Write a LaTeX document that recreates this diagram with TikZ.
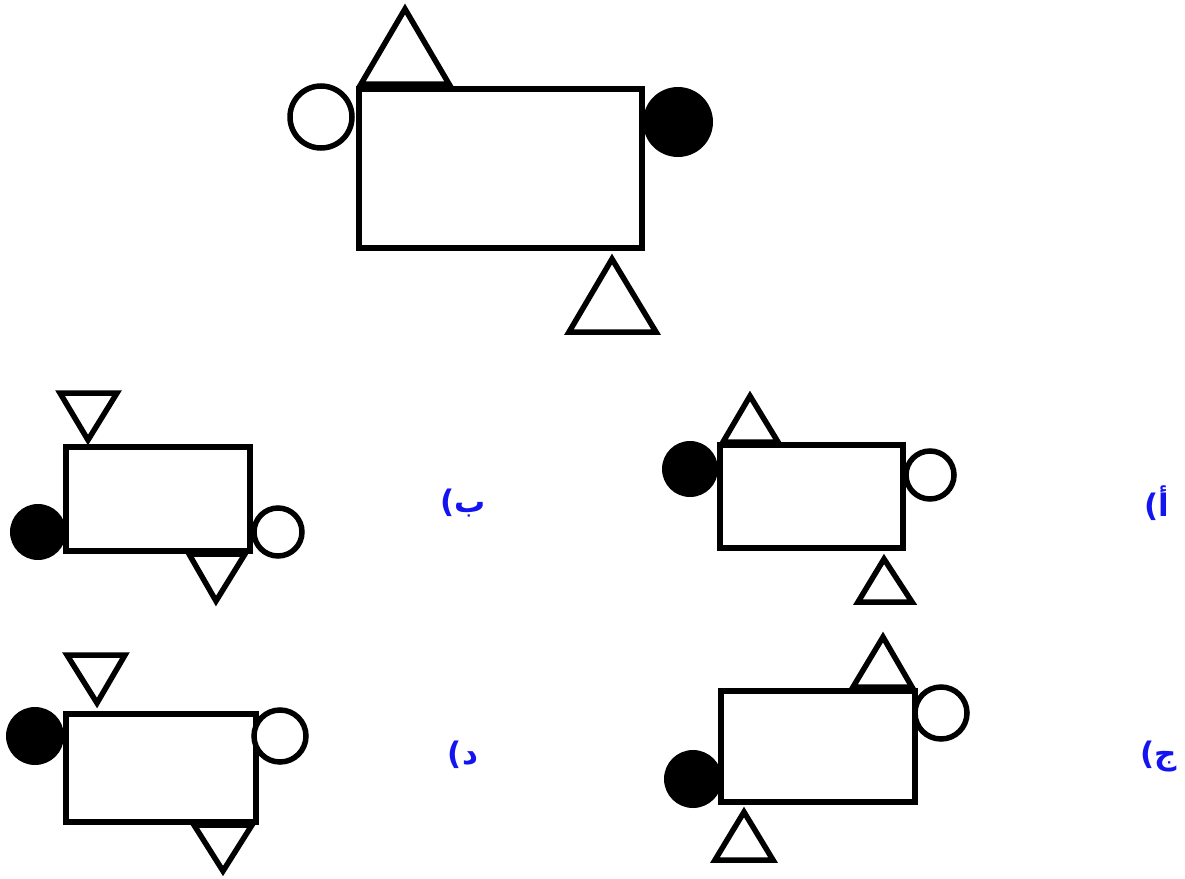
\documentclass[tikz,border=0pt]{standalone}
\usepackage{fontspec}
\newfontfamily\arabicfont[Script=Arabic]{DejaVu Sans}
\TeXXeTstate=1
\definecolor{lblblue}{RGB}{20,20,240}
\tikzset{
  shp/.style={draw=black, line width=5.5pt, fill=white},
  dot/.style={fill=black},
  lbl/.style={text=lblblue, font=\arabicfont\bfseries\fontsize{31}{34}\selectfont, inner sep=0pt}
}
\begin{document}
\begin{tikzpicture}[x=1pt,y=-1pt]
\useasboundingbox (0,0) rectangle (1185,878);
% ---------- top figure ----------
\draw[shp] (359,89) rectangle (642,248);
\draw[shp] (405,9) -- (449,84) -- (361,84) -- cycle;
\draw[shp] (321,117) circle (31);
\fill[dot] (678,122) circle (35);
\draw[shp] (612,259) -- (656,332) -- (569,332) -- cycle;
% ---------- figure b ----------
\draw[shp] (66,447) rectangle (250,551);
\draw[shp] (60,393) -- (117,393) -- (88,440) -- cycle;
\fill[dot] (38,532) circle (28);
\draw[shp] (278,532) circle (24);
\draw[shp] (189,554) -- (245,554) -- (216,601) -- cycle;
% ---------- figure a ----------
\draw[shp] (720,445) rectangle (903,548);
\draw[shp] (750,396) -- (778,442) -- (723,442) -- cycle;
\fill[dot] (690,469) circle (28);
\draw[shp] (930,475) circle (24);
\draw[shp] (884,559) -- (912,602) -- (858,602) -- cycle;
% ---------- figure d ----------
\draw[shp] (66,714) rectangle (256,822);
\draw[shp] (67,655) -- (125,655) -- (97,703) -- cycle;
\fill[dot] (35,736) circle (29);
\draw[shp] (280,736) circle (26);
\draw[shp] (194,825) -- (252,825) -- (223,871) -- cycle;
% ---------- figure j ----------
\draw[shp] (721,691) rectangle (915,802);
\draw[shp] (883,637) -- (912,687) -- (853,687) -- cycle;
\draw[shp] (941,713) circle (26);
\fill[dot] (693,779) circle (29);
\draw[shp] (744,812) -- (773,860) -- (715,860) -- cycle;
% ---------- labels ----------
\node[lbl] (lb) at (463,503) {\beginR ب)\endR};
\node[lbl] (la) at (1157,503) {\beginR أ)\endR};
\node[lbl] (ld) at (463,755) {\beginR د)\endR};
\node[lbl] (lj) at (1159,757) {\beginR ج)\endR};
\end{tikzpicture}
\end{document}
